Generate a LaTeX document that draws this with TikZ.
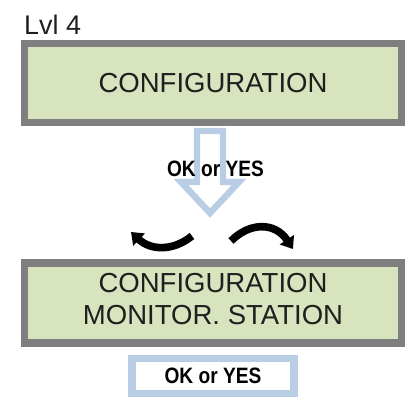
\documentclass[tikz,border=0pt]{standalone}
\usepackage{fontspec}
\usepackage{graphicx}
\setmainfont{Liberation Sans}
\usetikzlibrary{positioning,arrows.meta}
\definecolor{lcdgreen}{HTML}{D7E4BD}
\definecolor{lcdframe}{HTML}{7F7F7F}
\definecolor{keyblue}{HTML}{B9CDE5}
\newcommand{\okyes}{\scalebox{0.86}[1]{\bfseries\fontsize{19}{21}\selectfont OK or YES}}

\begin{document}
\begin{tikzpicture}[x=0.03cm, y=-0.03cm, >={Triangle[width=14pt,length=9.5pt]}]
    \tikzstyle{lcd}=[rectangle,draw=lcdframe,fill=lcdgreen,line width=6pt,align=center,minimum width=11.31cm,minimum height=2.36cm,text=black!88,font=\fontsize{23.5}{27.5}\selectfont]
    \tikzstyle{key}=[rectangle,draw=keyblue,fill=white,line width=6pt,minimum width=4.86cm,minimum height=1.065cm,inner sep=0pt]
    \tikzstyle{turn}=[line width=6.5pt,->]
    \useasboundingbox (0,0) rectangle (414,405);
    \node[anchor=base west,text=black!88,font=\fontsize{23}{26}\selectfont] (lvl) at (20,35) {Lvl 4};
    \node[lcd] (cfg) at (213,83) {CONFIGURATION};
    \node[lcd,minimum height=2.4cm,text depth=6.8pt] (mon) at (213,303) {CONFIGURATION\\MONITOR. STATION};
    \node[key] (ok) at (213,376) {\okyes};
    % hollow arrow down from the first screen
    \draw[keyblue,line width=5.5pt,miter limit=10] (197,131) -- (197,182) -- (181,182) -- (210,213) -- (239,182) -- (223,182) -- (223,131) -- cycle;
    \node[inner sep=0pt] (hint) at (215.5,169) {\okyes};
    % scroll arrows
    \coordinate (la) at (192,236);
    \coordinate (lb) at (131,232);
    \coordinate (ra) at (231,241);
    \coordinate (rb) at (293,249);
    \draw[turn] (la) .. controls (172,252) and (150,250) .. (lb);
    \draw[turn] (ra) .. controls (250,222) and (275,222) .. (rb);
  \end{tikzpicture}
\end{document}
